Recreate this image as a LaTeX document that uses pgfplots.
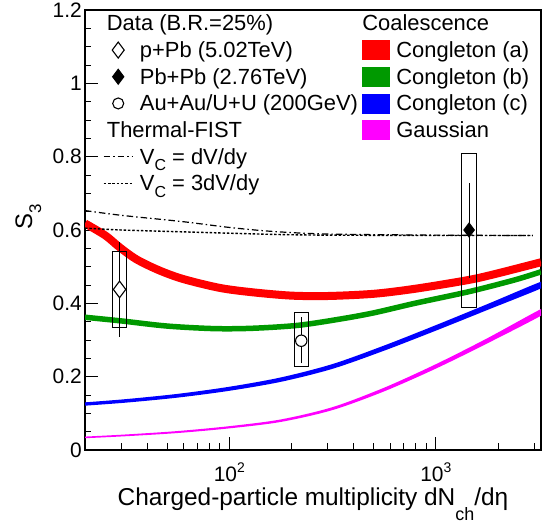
\documentclass[border=0pt]{standalone}
\usepackage{fontspec}
\setmainfont{Liberation Sans}
\usepackage{pgfplots}
\pgfplotsset{compat=1.18}
\definecolor{cgreen}{RGB}{0,153,0}
\definecolor{cred}{RGB}{255,0,0}
\definecolor{cblue}{RGB}{0,0,255}
\definecolor{cmag}{RGB}{255,0,255}
\newcommand{\sub}[2]{\raisebox{#1}{\fontsize{16}{16}\selectfont #2}}
\begin{document}
\begin{tikzpicture}
\begin{axis}[
  name=ax,
  xmode=log,
  width=456bp, height=440bp, scale only axis,
  xmin=20, xmax=3230, ymin=0, ymax=1.2,
  xtick={100,1000},
  xticklabels={\mbox{10\raisebox{9bp}{\fontsize{14}{14}\selectfont 2}},\mbox{10\raisebox{9bp}{\fontsize{14}{14}\selectfont 3}}},
  minor xtick={20,30,40,50,60,70,80,90,200,300,400,500,600,700,800,900,2000,3000},
  ytick={0,0.2,0.4,0.6,0.8,1,1.2},
  yticklabels={0,0.2,0.4,0.6,0.8,1,1.2},
  minor y tick num=3,
  tick pos=left, tick align=inside,
  major tick length=13bp, minor tick length=6.5bp,
  every tick/.style={black, line width=0.9bp},
  axis line style={line width=1.2bp},
  tick label style={font=\fontsize{21}{21}\selectfont, inner sep=0pt},
  xticklabel style={anchor=north, yshift=-13bp},
  yticklabel style={anchor=east, xshift=-3bp},
  every axis x label/.style={at={([yshift=-55bp]axis description cs:0.5,0)}, anchor=base, font=\fontsize{24.5}{24.5}\selectfont},
  every axis y label/.style={at={([xshift=-53bp]axis description cs:0,0.53)}, rotate=90, anchor=base, font=\fontsize{24}{24}\selectfont},
  xlabel={Charged-particle multiplicity dN\raisebox{-15bp}{\fontsize{18}{18}\selectfont ch}/dη},
  ylabel={S\raisebox{-9bp}{\fontsize{17}{17}\selectfont 3}},
  legend columns=2,
  legend cell align=left,
  legend image code/.code={\draw[mark repeat=2,mark phase=2,#1] plot coordinates {(0bp,0bp) (14.5bp,0bp) (29bp,0bp)};},
  legend style={draw=none, fill=none, inner sep=0pt, outer sep=0pt,
    at={(axis description cs:0.0395,1)}, anchor=north west,
    font=\fontsize{22}{22}\selectfont,
    nodes={inner sep=0pt, text height=20.7bp, text depth=6bp},
    column sep=0pt,
    /tikz/every odd column/.append style={column sep=6.5bp},
    /tikz/every even column/.append style={column sep=4.5bp}},
]
% coalescence curves
\addplot[cred, line width=8bp, smooth, forget plot] coordinates {
  (20,0.618) (25.1,0.585) (29.4,0.553) (35.5,0.520) (45.7,0.490) (60,0.466)
  (90,0.442) (130,0.430) (200,0.421) (300,0.420) (500,0.426) (800,0.440)
  (1450,0.464) (2000,0.482) (3230,0.512)};
\addplot[cgreen, line width=5.5bp, smooth, forget plot] coordinates {
  (20,0.362) (30,0.352) (50,0.338) (85,0.331) (130,0.332) (215,0.340)
  (343,0.357) (500,0.374) (790,0.400) (1450,0.432) (2414,0.464) (3230,0.486)};
% blue band: upper edge forward, lower edge back
\addplot[fill=cblue, draw=none, smooth, forget plot] coordinates {
  (19,0.1290) (31.6,0.1388) (56.2,0.1531) (100,0.1725) (177.8,0.1980)
  (316.2,0.2345) (562.3,0.2850) (1000,0.3405) (1778,0.3980) (3400,0.4635)
  (3400,0.4465) (1778,0.3820) (1000,0.3255) (562.3,0.2710) (316.2,0.2215)
  (177.8,0.1860) (100,0.1615) (56.2,0.1429) (31.6,0.1292) (19,0.1200)};
% magenta band
\addplot[fill=cmag, draw=none, smooth, forget plot] coordinates {
  (19,0.0359) (31.6,0.0424) (56.2,0.0517) (100,0.0650) (177.8,0.0834)
  (316.2,0.1170) (562.3,0.1700) (1000,0.2340) (1778,0.3050) (3400,0.3905)
  (3400,0.3735) (1778,0.2910) (1000,0.2220) (562.3,0.1600) (316.2,0.1090)
  (177.8,0.0766) (100,0.0590) (56.2,0.0463) (31.6,0.0376) (19,0.0315)};
% Thermal-FIST
\addplot[black, line width=1.2bp, smooth, forget plot, dash pattern=on 6.5bp off 3bp on 1.5bp off 3bp] coordinates {
  (20,0.653) (30,0.640) (59,0.623) (100,0.607) (163,0.596) (300,0.589) (1000,0.586) (2950,0.585)};
\addplot[black, line width=1.4bp, smooth, forget plot, dash pattern=on 2.5bp off 1.8bp] coordinates {
  (20,0.605) (30,0.600) (59,0.595) (163,0.588) (300,0.586) (1000,0.585) (2950,0.585)};
% systematic boxes
\addplot[black, line width=0.8bp, forget plot] coordinates {
  (27.0,0.335) (31.8,0.335) (31.8,0.541) (27.0,0.541) (27.0,0.335)};
\addplot[black, line width=0.8bp, forget plot] coordinates {
  (205.6,0.227) (242.1,0.227) (242.1,0.374) (205.6,0.374) (205.6,0.227)};
\addplot[black, line width=0.8bp, forget plot] coordinates {
  (1332,0.388) (1574,0.388) (1574,0.809) (1332,0.809) (1332,0.388)};
% statistical errors
\addplot[black, line width=1bp, forget plot] coordinates {(29.4,0.309) (29.4,0.566)};
\addplot[black, line width=1bp, forget plot] coordinates {(223,0.236) (223,0.364)};
\addplot[black, line width=1bp, forget plot] coordinates {(1449,0.470) (1449,0.729)};
% data points
\addplot[only marks, black, mark=diamond*, mark size=8.3bp, mark options={fill=white, line width=1.1bp}, forget plot] coordinates {(29.4,0.438)};
\addplot[only marks, black, mark=*, mark size=5.7bp, mark options={fill=white, line width=1.1bp}, forget plot] coordinates {(223,0.298)};
\addplot[only marks, black, mark=diamond*, mark size=7bp, mark options={fill=black, line width=1bp}, forget plot] coordinates {(1449,0.600)};
% legend
\addlegendimage{empty legend}\addlegendentry{\hspace*{-33bp}Data (B.R.=25\%)}
\addlegendimage{empty legend}\addlegendentry{\hspace*{-34bp}Coalescence}
\addlegendimage{only marks, black, mark=diamond*, mark size=8bp, mark options={fill=white, line width=1.1bp}}
\addlegendentry{p+Pb (5.02TeV)}
\addlegendimage{legend image code/.code={\fill[cred] (0bp,-9.5bp) rectangle (27bp,9.5bp);}}
\addlegendentry{Congleton (a)}
\addlegendimage{only marks, black, mark=diamond*, mark size=7.5bp, mark options={fill=black, line width=1bp}}
\addlegendentry{Pb+Pb (2.76TeV)}
\addlegendimage{legend image code/.code={\fill[cgreen] (0bp,-9.5bp) rectangle (27bp,9.5bp);}}
\addlegendentry{Congleton (b)}
\addlegendimage{only marks, black, mark=*, mark size=5.5bp, mark options={fill=white, line width=1.1bp}}
\addlegendentry{Au+Au/U+U (200GeV)}
\addlegendimage{legend image code/.code={\fill[cblue] (0bp,-9.5bp) rectangle (27bp,9.5bp);}}
\addlegendentry{Congleton (c)}
\addlegendimage{empty legend}\addlegendentry{\hspace*{-33bp}Thermal-FIST}
\addlegendimage{legend image code/.code={\fill[cmag] (0bp,-9.5bp) rectangle (27bp,9.5bp);}}
\addlegendentry{Gaussian}
\addlegendimage{black, line width=1.2bp, dash pattern=on 6.5bp off 3bp on 1.5bp off 3bp}
\addlegendentry{V\sub{-6.5bp}{C} = dV/dy}
\addlegendimage{empty legend}\addlegendentry{}
\addlegendimage{black, line width=1.4bp, dash pattern=on 2.5bp off 1.8bp}
\addlegendentry{V\sub{-6.5bp}{C} = 3dV/dy}
\end{axis}
\pgfresetboundingbox
\path ([shift={(-85bp,-75bp)}]ax.south west) rectangle ([shift={(15bp,10bp)}]ax.north east);
\end{tikzpicture}
\end{document}
